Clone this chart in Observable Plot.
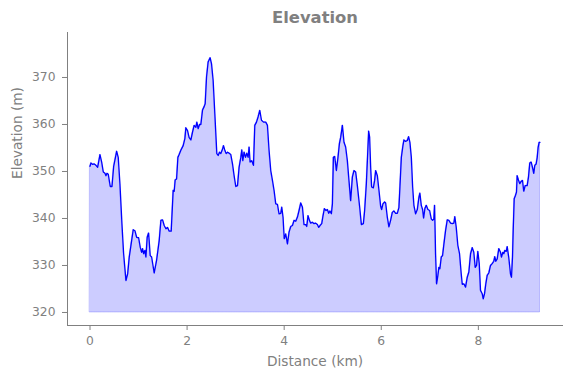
<!DOCTYPE html>
<html>
<head>
<meta charset="utf-8">
<script src="https://cdn.jsdelivr.net/npm/d3@7"></script>
<script src="https://cdn.jsdelivr.net/npm/@observablehq/plot@0.6"></script>
<style>
  html, body { margin: 0; padding: 0; background: #fff; }
  #chart svg { display: block; }
</style>
</head>
<body>
<div id="chart"></div>
<script>
const titleText = "Elevation";
const xLabel = "Distance (km)";
const yLabel = "Elevation (m)";
const xTicks = [0, 2, 4, 6, 8];
const yTicks = [320, 330, 340, 350, 360, 370];
const baseElevation = 320;

const distanceKm = [0,0.021,0.056,0.088,0.123,0.158,0.206,0.241,0.274,0.309,0.329,0.350,0.377,0.418,0.453,0.488,0.549,0.582,0.617,0.658,0.693,0.741,0.776,0.809,0.858,0.891,0.926,0.961,1.002,1.035,1.064,1.084,1.105,1.132,1.152,1.179,1.208,1.241,1.270,1.323,1.372,1.426,1.461,1.496,1.529,1.564,1.599,1.632,1.673,1.714,1.735,1.755,1.784,1.811,1.837,1.872,1.920,
1.955,1.975,2.010,2.043,2.078,2.113,2.146,2.181,2.202,2.228,2.257,2.284,2.319,2.352,2.373,2.401,2.434,2.475,2.504,2.537,2.572,2.613,2.640,2.669,2.695,2.722,2.751,2.778,2.805,2.833,2.866,2.901,2.936,2.969,3.004,3.039,3.072,3.107,3.128,3.148,3.175,3.204,3.230,3.257,3.278,3.298,3.333,3.368,3.395,3.430,3.463,3.498,3.533,3.574,3.621,3.656,3.689,3.724,3.759,3.792,3.827,3.862,3.895,3.930,3.951,3.977,
4.002,4.033,4.068,4.101,4.136,4.171,4.204,4.239,4.274,4.307,4.342,4.377,4.409,4.444,4.465,4.492,4.521,4.547,4.582,4.615,4.650,4.685,4.712,4.739,4.774,4.801,4.829,4.862,4.891,4.918,4.944,4.973,4.994,5.014,5.041,5.076,5.109,5.138,5.165,5.200,5.233,5.267,5.302,5.335,5.370,5.405,5.438,5.473,5.508,5.556,5.591,5.632,5.658,5.693,5.714,5.741,5.761,5.782,5.802,5.837,5.864,5.885,5.920,5.953,5.988,6.008,6.035,6.070,
6.091,6.125,6.158,6.193,6.228,6.261,6.296,6.331,6.364,6.385,6.414,6.447,6.467,6.502,6.537,6.564,6.591,6.620,6.647,6.673,6.708,6.743,6.776,6.796,6.825,6.852,6.873,6.899,6.928,6.961,6.996,7.031,7.058,7.084,7.099,7.119,7.140,7.167,7.187,7.208,7.237,7.263,7.290,7.325,7.360,7.393,7.428,7.463,7.496,7.516,7.545,7.578,7.613,7.648,7.669,7.702,7.737,7.772,7.805,7.840,7.875,7.907,7.936,7.963,7.990,8.019,8.045,8.080,8.101,8.128,8.154,8.183,8.216,8.251,8.286,8.319,8.339,8.360,8.389,8.422,8.457,8.477,8.504,8.525,8.545,8.574,8.595,8.628,8.663,8.683,8.704,8.718,8.739,8.765,8.786,8.800,8.827,8.854,8.883,8.910,8.936,8.965,9.006,9.033,9.060,9.089,9.115,9.142,9.163,9.191,9.212,9.233,9.253,9.270];

const elevationM = [351.1,351.8,351.5,351.6,351.3,350.9,353.6,352.0,349.9,349.6,349.1,349.6,349.4,346.8,346.8,351.1,354.3,353.0,347.4,338.9,332.5,326.8,328.2,331.8,335.3,337.6,337.4,336.0,335.9,333.9,332.8,333.6,332.5,333.2,331.8,336.0,336.9,332.1,331.8,328.4,331.1,335.3,339.6,339.7,338.5,337.8,338.1,337.3,337.3,346.0,345.8,348.2,348.4,353.0,353.6,354.5,355.5,
357.0,359.3,358.7,357.2,356.7,358.4,359.8,359.4,360.5,359.1,360.0,360.0,363.1,363.8,364.4,370.1,373.3,374.2,372.9,369.4,362.3,353.8,353.4,354.1,353.8,354.5,355.5,354.5,353.8,354.1,353.9,353.6,351.6,349.1,346.8,347.0,350.9,353.0,354.6,352.3,354.1,353.0,353.9,353.0,355.2,352.0,352.3,351.3,359.8,360.5,361.6,363.0,360.9,360.5,360.5,359.8,354.5,350.2,348.1,346.0,343.1,343.0,341.0,341.1,342.4,340.3,
335.7,336.7,334.6,337.1,338.3,338.5,339.6,339.4,340.3,341.7,343.3,342.4,338.7,338.7,338.3,340.6,339.6,339.0,339.2,338.9,339.0,338.7,338.1,338.5,338.9,340.6,342.1,341.7,341.9,341.1,341.6,341.0,343.1,353.0,353.2,350.2,353.0,355.9,357.3,359.8,356.2,355.2,352.3,348.1,343.8,348.8,350.2,349.9,347.0,342.4,338.7,338.9,341.7,347.4,352.3,358.6,357.3,350.9,346.7,346.5,348.1,350.2,349.1,346.0,342.6,341.9,343.1,343.5,
343.3,340.3,338.2,339.6,341.3,341.6,341.1,341.1,342.3,346.7,353.0,355.5,356.7,356.4,356.6,357.4,356.2,353.0,346.7,342.8,341.0,341.9,344.5,345.4,342.8,341.9,340.1,342.1,342.8,341.9,341.7,339.9,339.6,339.9,342.8,332.5,326.1,327.9,329.6,329.3,331.8,332.1,334.5,337.4,339.7,339.6,339.0,338.9,339.0,340.4,338.1,334.3,332.5,328.2,326.0,326.1,325.4,327.5,328.6,332.5,333.8,332.8,329.6,330.0,333.0,330.4,324.7,324.0,322.9,324.0,326.1,327.9,328.4,330.0,330.4,330.9,331.9,330.9,331.4,333.6,332.8,331.8,332.8,332.5,333.2,333.0,334.0,331.6,328.2,327.5,331.8,337.4,344.2,344.9,345.6,349.1,348.2,347.4,347.9,348.1,345.8,347.0,347.0,348.8,351.8,352.0,350.9,349.6,351.3,351.6,352.9,355.2,356.2,356.2];

const n = Math.min(distanceKm.length, elevationM.length);
const data = d3.range(n).map(i => ({km: distanceKm[i], m: elevationM[i]}));

const gray = "#808080";

const chart = Plot.plot({
  width: 571,
  height: 378,
  marginLeft: 67,
  marginRight: 9,
  marginTop: 32,
  marginBottom: 53,
  style: {
    fontFamily: "DejaVu Sans, sans-serif",
    fontSize: "12.3px",
    color: gray,
    background: "#fff",
    overflow: "visible"
  },
  x: {
    domain: [-0.4635, 9.7335],
    ticks: xTicks,
    tickSize: 5,
    tickPadding: 6,
    tickFormat: d3.format("d"),
    label: null,
    line: true
  },
  y: {
    domain: [317.23, 379.57],
    ticks: yTicks,
    tickSize: 5,
    tickPadding: 7,
    tickFormat: d3.format("d"),
    label: null,
    line: true
  },
  marks: [
    Plot.areaY(data, {x: "km", y1: baseElevation, y2: "m", fill: "blue", fillOpacity: 0.2, stroke: "blue", strokeOpacity: 0.2, strokeWidth: 1}),
    Plot.line(data, {x: "km", y: "m", stroke: "blue", strokeWidth: 1.3}),
    Plot.text([titleText], {text: d => d, frameAnchor: "top", dy: -14.5, fontSize: 16.4, fontWeight: "bold", fill: gray, lineAnchor: "middle"}),
    Plot.text([xLabel], {text: d => d, frameAnchor: "bottom", dy: 36, fontSize: 13.7, fill: gray, lineAnchor: "middle"}),
    Plot.text([yLabel], {text: d => d, frameAnchor: "left", dx: -50, rotate: -90, fontSize: 13.7, fill: gray, lineAnchor: "middle"})
  ]
});
document.getElementById("chart").appendChild(chart);
</script>
</body>
</html>
